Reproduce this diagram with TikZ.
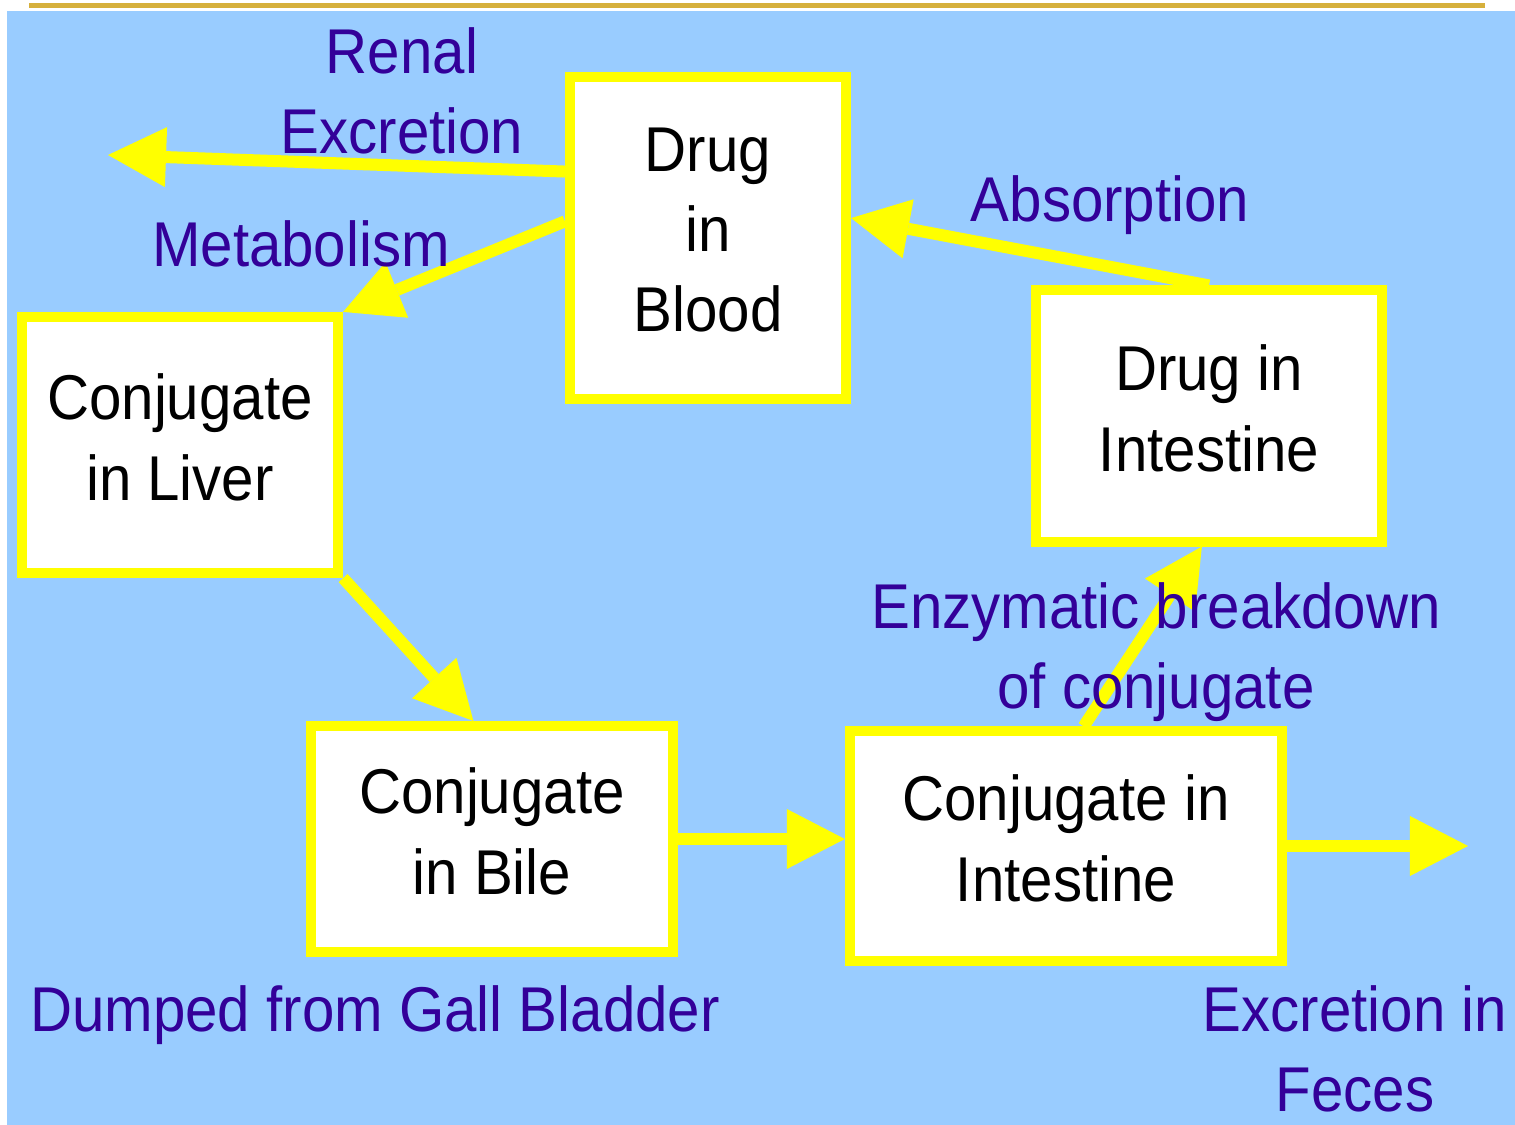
\documentclass[tikz,border=0pt]{standalone}
\usepackage{fontspec}
\setmainfont{Liberation Sans}[FakeStretch=0.92]
\usepackage{xcolor}
\usepackage{tikz}
\usetikzlibrary{arrows.meta,calc}
\definecolor{slideblue}{RGB}{153, 204, 255}
\definecolor{boxyellow}{RGB}{255, 255, 0}
\definecolor{labelindigo}{RGB}{51, 0, 153}
\definecolor{rulegold}{RGB}{214, 176, 60}

\tikzset{
    stage/.style={draw=boxyellow, fill=white, line width=0.1cm, align=center, inner sep=0pt,
        font=\fontsize{18}{22.8}\selectfont, execute at end node={\rule[-0.16cm]{0pt}{0pt}}},
    flow/.style={draw=boxyellow, line width=0.12cm,
        -{Triangle[length=0.58cm, width=0.6cm, line width=0pt]}},
    lbl/.style={text=labelindigo, align=center, inner sep=0pt, anchor=north,
        font=\fontsize{18}{22.8}\selectfont}
}

\begin{document}
\begin{tikzpicture}[x=0.01cm, y=-0.01cm]
    \useasboundingbox (0,0) rectangle (1515,1125);
    % Slide
    \fill[white] (0,0) rectangle (1515,1125);
    \fill[slideblue] (7,11) rectangle (1515,1125);
    \draw[rulegold, line width=0.05cm] (29,6) -- (1485,6);

    % Boxes
    \node[stage, minimum width=2.76cm, minimum height=3.22cm] (blood) at (708,238) {Drug\\in\\Blood};
    \node[stage, minimum width=3.16cm, minimum height=2.56cm] (liver) at (180,445) {Conjugate\\in Liver};
    \node[stage, minimum width=3.46cm, minimum height=2.51cm] (intD) at (1209,416) {Drug in\\Intestine};
    \node[stage, minimum width=3.62cm, minimum height=2.26cm] (bile) at (492,839) {Conjugate\\in Bile};
    \node[stage, minimum width=4.32cm, minimum height=2.29cm] (intC) at (1066,846) {Conjugate in\\Intestine};

    \coordinate (renalout) at (108,155);
    \coordinate (fecesout) at (1468,846);

    % Arrows
    \draw[flow] ($(blood.north west)!0.3!(blood.south west)$) -- (renalout);
    \draw[flow] ($(blood.north west)!0.45!(blood.south west)$) -- (liver.north east);
    \draw[flow] (liver.south east) -- ($(bile.north west)!0.45!(bile.north east)$);
    \draw[flow] (bile.east) -- (bile.east -| intC.west);
    \draw[flow] (intC.east) -- (fecesout);
    \draw[flow] ($(intC.north west)!0.54!(intC.north east)$) -- ($(intD.south west)!0.48!(intD.south east)$);
    \draw[flow] (intD.north) -- ($(blood.north east)!0.44!(blood.south east)$);

    % Labels
    \node[lbl] (renal) at (402,27) {Renal\\Excretion};
    \node[lbl] (metab) at (301,220) {Metabolism};
    \node[lbl] (absorb) at (1110,175) {Absorption};
    \node[lbl] (enzyme) at (1156,582) {Enzymatic breakdown\\of conjugate};
    \node[lbl] (dumped) at (375,985) {Dumped from Gall Bladder};
    \node[lbl] (feces) at (1355,985) {Excretion in\\Feces};
\end{tikzpicture}
\end{document}
